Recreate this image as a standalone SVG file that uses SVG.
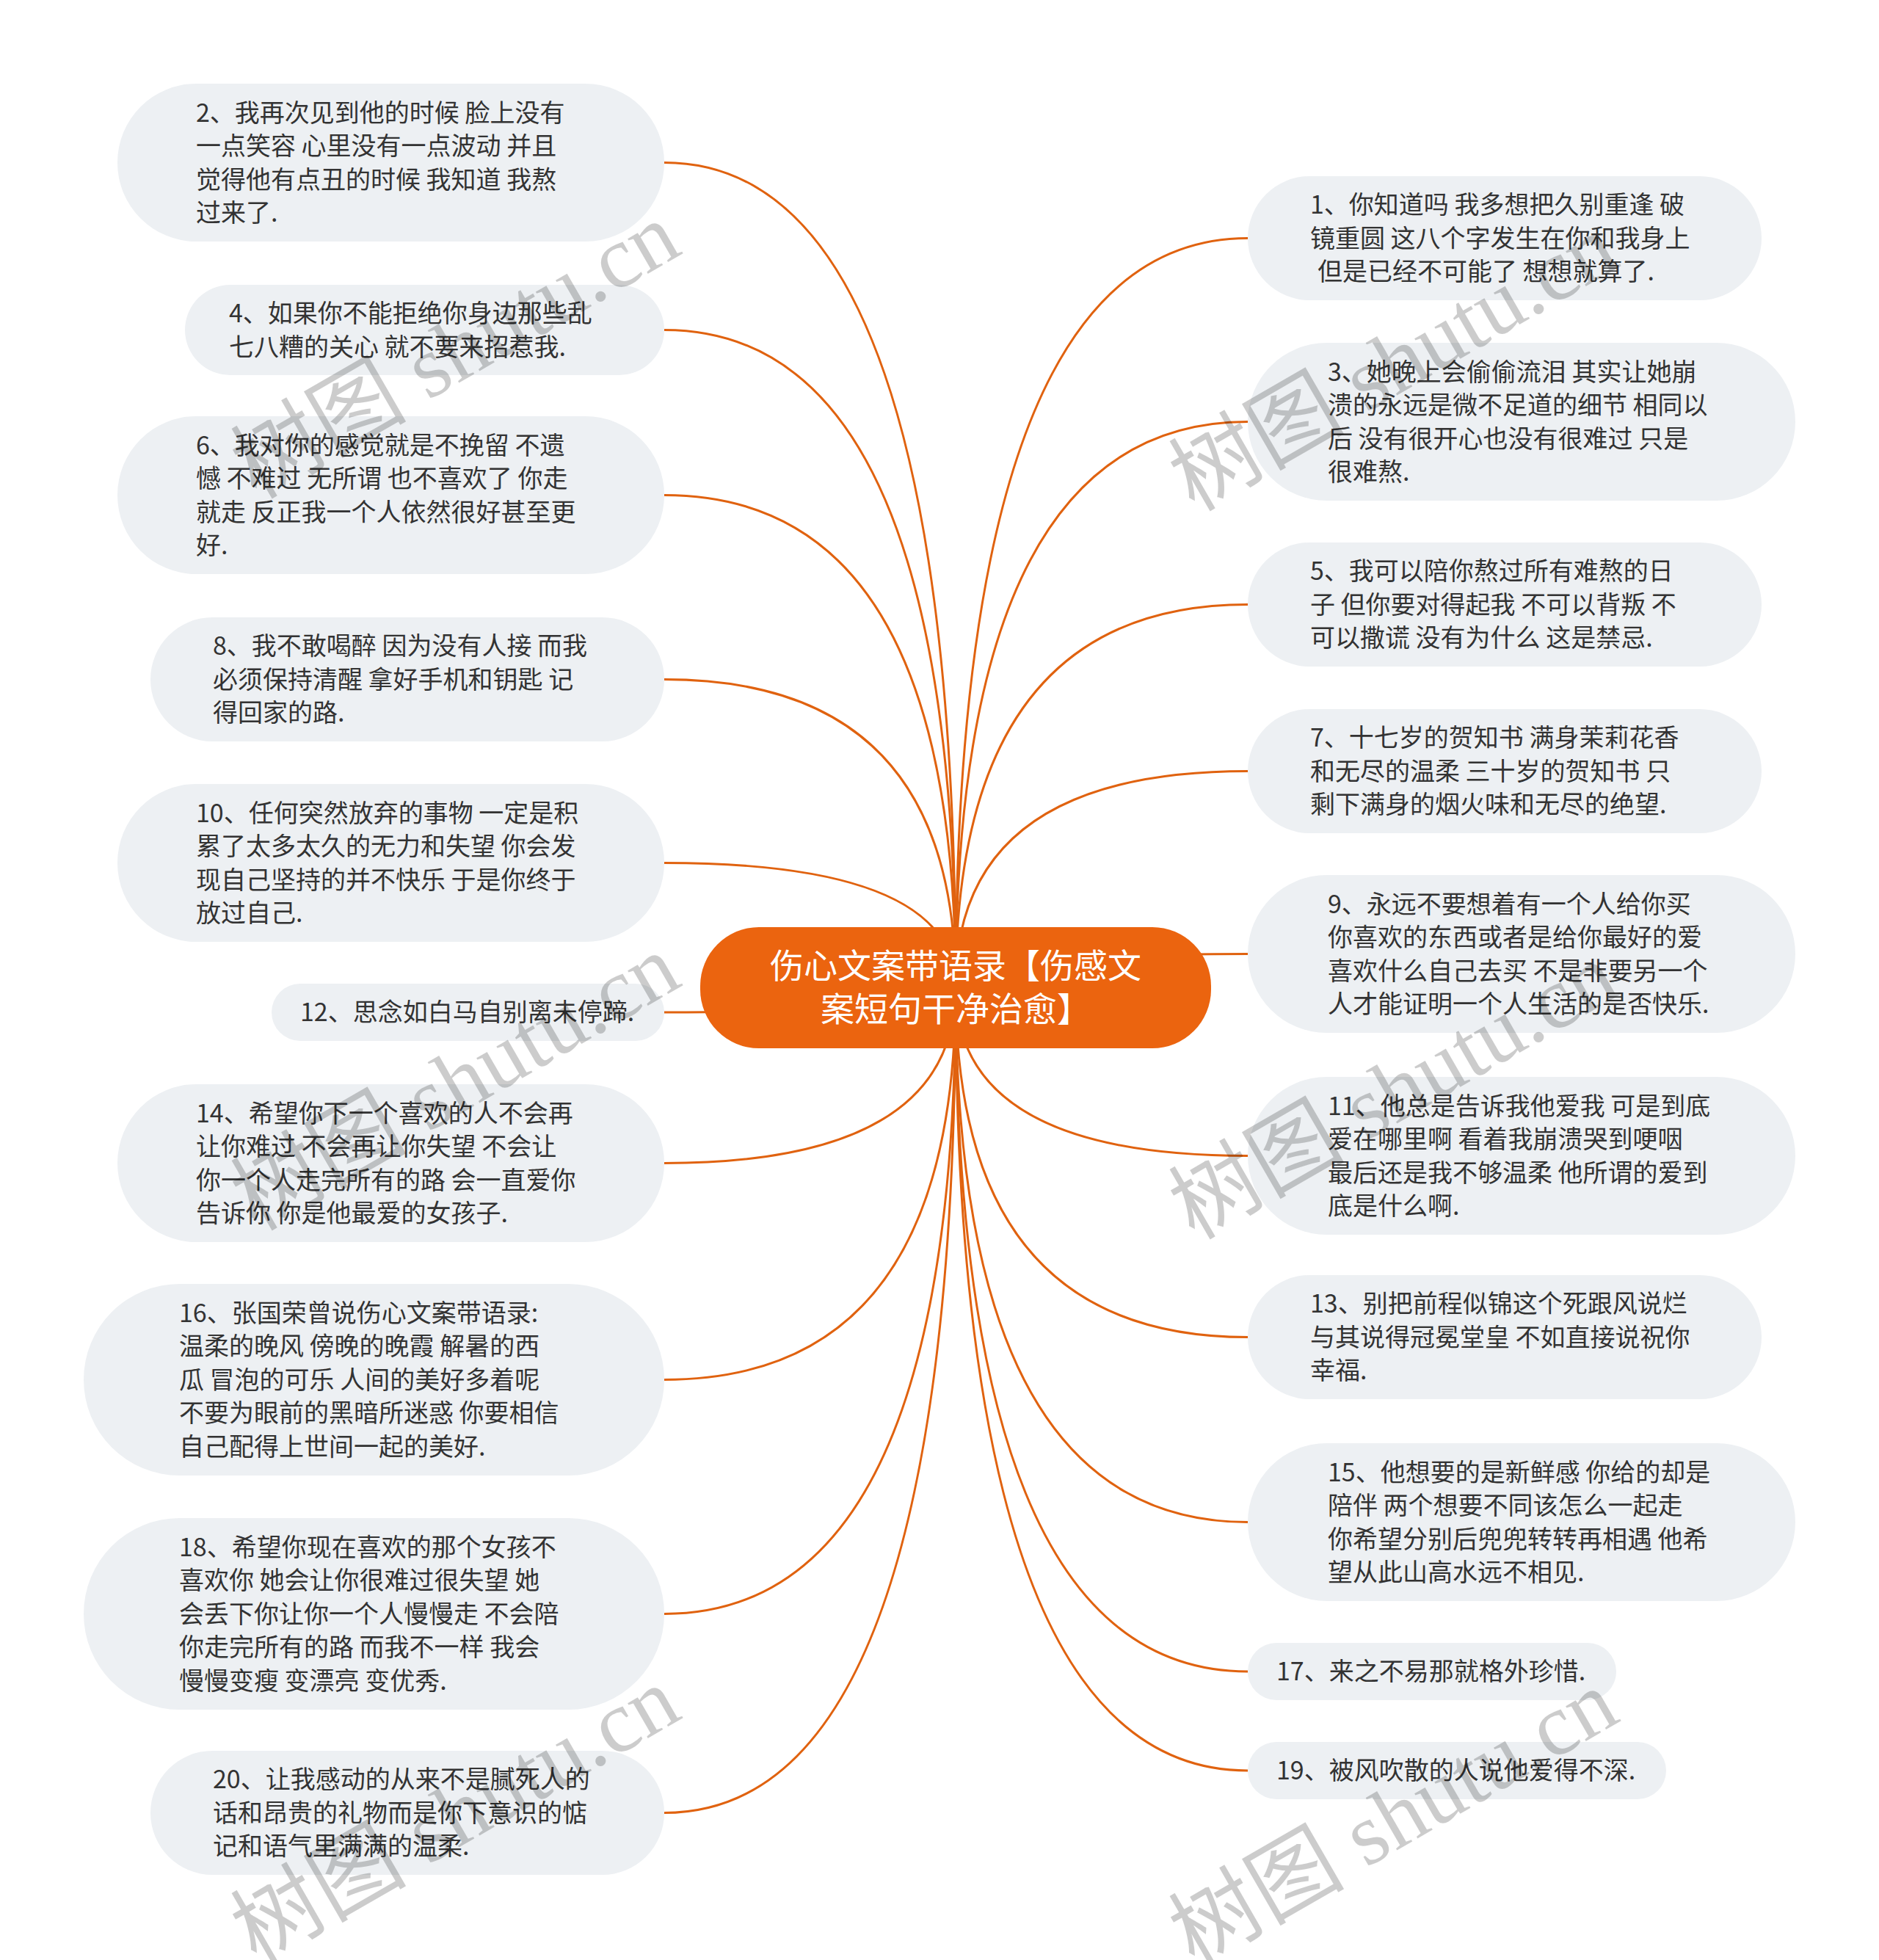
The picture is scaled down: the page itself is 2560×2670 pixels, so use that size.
<svg xmlns="http://www.w3.org/2000/svg" width="2560" height="2670" viewBox="0 0 2560 2670">
<style>
.node rect{fill:#EDF0F3}
.node text{font-family:"Noto Sans CJK SC","Microsoft YaHei",sans-serif;font-size:34px;fill:#333333}
.edge{fill:none;stroke:#E0620F;stroke-width:3}
.center rect{fill:#EB640F}
.center text{font-family:"Noto Sans CJK SC","Microsoft YaHei",sans-serif;font-size:46px;fill:#FFFFFF;text-anchor:middle}
.wm{font-family:"Liberation Serif","Noto Sans CJK SC",serif;font-size:120px;fill:#000000;fill-opacity:0.2}
</style>
<rect width="2560" height="2670" fill="#FFFFFF"/>
<g id="connectors">
<path class="edge" d="M1302 1345 Q1302 221.5 905 221.5"/>
<path class="edge" d="M1302 1345 Q1302 449.5 905 449.5"/>
<path class="edge" d="M1302 1345 Q1302 674.5 905 674.5"/>
<path class="edge" d="M1302 1345 Q1302 925.5 905 925.5"/>
<path class="edge" d="M1302 1345 Q1302 1175.5 905 1175.5"/>
<path class="edge" d="M1302 1345 Q1302 1379 905 1379"/>
<path class="edge" d="M1302 1345 Q1302 1584.5 905 1584.5"/>
<path class="edge" d="M1302 1345 Q1302 1879.5 905 1879.5"/>
<path class="edge" d="M1302 1345 Q1302 2198.5 905 2198.5"/>
<path class="edge" d="M1302 1345 Q1302 2469.5 905 2469.5"/>
<path class="edge" d="M1302 1345 Q1302 324.5 1700 324.5"/>
<path class="edge" d="M1302 1345 Q1302 574.5 1700 574.5"/>
<path class="edge" d="M1302 1345 Q1302 823.5 1700 823.5"/>
<path class="edge" d="M1302 1345 Q1302 1050.5 1700 1050.5"/>
<path class="edge" d="M1302 1345 Q1302 1299.5 1700 1299.5"/>
<path class="edge" d="M1302 1345 Q1302 1574.5 1700 1574.5"/>
<path class="edge" d="M1302 1345 Q1302 1821.5 1700 1821.5"/>
<path class="edge" d="M1302 1345 Q1302 2073.5 1700 2073.5"/>
<path class="edge" d="M1302 1345 Q1302 2277 1700 2277"/>
<path class="edge" d="M1302 1345 Q1302 2412 1700 2412"/>
</g>
<g id="center" class="center">
<rect x="954" y="1263" width="696" height="165" rx="80" ry="80"/>
<text><tspan x="1302" y="1332">伤心文案带语录【伤感文</tspan><tspan x="1302" y="1391">案短句干净治愈】</tspan></text>
</g>
<g id="n2" class="node"><rect x="160" y="114" width="745" height="215" rx="107.5"/>
<text><tspan x="267" y="166">2、我再次见到他的时候 脸上没有</tspan><tspan x="267" y="211">一点笑容 心里没有一点波动 并且</tspan><tspan x="267" y="257">觉得他有点丑的时候 我知道 我熬</tspan><tspan x="267" y="302">过来了.</tspan></text></g>
<g id="n4" class="node"><rect x="252" y="388" width="653" height="123" rx="61.5"/>
<text><tspan x="312" y="439">4、如果你不能拒绝你身边那些乱</tspan><tspan x="312" y="485">七八糟的关心 就不要来招惹我.</tspan></text></g>
<g id="n6" class="node"><rect x="160" y="567" width="745" height="215" rx="107.5"/>
<text><tspan x="267" y="619">6、我对你的感觉就是不挽留 不遗</tspan><tspan x="267" y="664">憾 不难过 无所谓 也不喜欢了 你走</tspan><tspan x="267" y="710">就走 反正我一个人依然很好甚至更</tspan><tspan x="267" y="755">好.</tspan></text></g>
<g id="n8" class="node"><rect x="205" y="841" width="700" height="169" rx="84.5"/>
<text><tspan x="290" y="892">8、我不敢喝醉 因为没有人接 而我</tspan><tspan x="290" y="938">必须保持清醒 拿好手机和钥匙 记</tspan><tspan x="290" y="983">得回家的路.</tspan></text></g>
<g id="n10" class="node"><rect x="160" y="1068" width="745" height="215" rx="107.5"/>
<text><tspan x="267" y="1120">10、任何突然放弃的事物 一定是积</tspan><tspan x="267" y="1165">累了太多太久的无力和失望 你会发</tspan><tspan x="267" y="1211">现自己坚持的并不快乐 于是你终于</tspan><tspan x="267" y="1256">放过自己.</tspan></text></g>
<g id="n12" class="node"><rect x="370" y="1340" width="535" height="78" rx="39"/>
<text><tspan x="409" y="1391">12、思念如白马自别离未停蹄.</tspan></text></g>
<g id="n14" class="node"><rect x="160" y="1477" width="745" height="215" rx="107.5"/>
<text><tspan x="267" y="1529">14、希望你下一个喜欢的人不会再</tspan><tspan x="267" y="1574">让你难过 不会再让你失望 不会让</tspan><tspan x="267" y="1620">你一个人走完所有的路 会一直爱你</tspan><tspan x="267" y="1665">告诉你 你是他最爱的女孩子.</tspan></text></g>
<g id="n16" class="node"><rect x="114" y="1749" width="791" height="261" rx="130.5"/>
<text><tspan x="244" y="1801">16、张国荣曾说伤心文案带语录:</tspan><tspan x="244" y="1846">温柔的晚风 傍晚的晚霞 解暑的西</tspan><tspan x="244" y="1892">瓜 冒泡的可乐 人间的美好多着呢</tspan><tspan x="244" y="1937">不要为眼前的黑暗所迷惑 你要相信</tspan><tspan x="244" y="1983">自己配得上世间一起的美好.</tspan></text></g>
<g id="n18" class="node"><rect x="114" y="2068" width="791" height="261" rx="130.5"/>
<text><tspan x="244" y="2120">18、希望你现在喜欢的那个女孩不</tspan><tspan x="244" y="2165">喜欢你 她会让你很难过很失望 她</tspan><tspan x="244" y="2211">会丢下你让你一个人慢慢走 不会陪</tspan><tspan x="244" y="2256">你走完所有的路 而我不一样 我会</tspan><tspan x="244" y="2302">慢慢变瘦 变漂亮 变优秀.</tspan></text></g>
<g id="n20" class="node"><rect x="205" y="2385" width="700" height="169" rx="84.5"/>
<text><tspan x="290" y="2436">20、让我感动的从来不是腻死人的</tspan><tspan x="290" y="2482">话和昂贵的礼物而是你下意识的惦</tspan><tspan x="290" y="2527">记和语气里满满的温柔.</tspan></text></g>
<g id="n1" class="node"><rect x="1700" y="240" width="700" height="169" rx="84.5"/>
<text><tspan x="1785" y="291">1、你知道吗 我多想把久别重逢 破</tspan><tspan x="1785" y="337">镜重圆 这八个字发生在你和我身上</tspan><tspan x="1795" y="382">但是已经不可能了 想想就算了.</tspan></text></g>
<g id="n3" class="node"><rect x="1700" y="467" width="746" height="215" rx="107.5"/>
<text><tspan x="1809" y="519">3、她晚上会偷偷流泪 其实让她崩</tspan><tspan x="1809" y="564">溃的永远是微不足道的细节 相同以</tspan><tspan x="1809" y="610">后 没有很开心也没有很难过 只是</tspan><tspan x="1809" y="655">很难熬.</tspan></text></g>
<g id="n5" class="node"><rect x="1700" y="739" width="700" height="169" rx="84.5"/>
<text><tspan x="1785" y="790">5、我可以陪你熬过所有难熬的日</tspan><tspan x="1785" y="836">子 但你要对得起我 不可以背叛 不</tspan><tspan x="1785" y="881">可以撒谎 没有为什么 这是禁忌.</tspan></text></g>
<g id="n7" class="node"><rect x="1700" y="966" width="700" height="169" rx="84.5"/>
<text><tspan x="1785" y="1017">7、十七岁的贺知书 满身茉莉花香</tspan><tspan x="1785" y="1063">和无尽的温柔 三十岁的贺知书 只</tspan><tspan x="1785" y="1108">剩下满身的烟火味和无尽的绝望.</tspan></text></g>
<g id="n9" class="node"><rect x="1700" y="1192" width="746" height="215" rx="107.5"/>
<text><tspan x="1809" y="1244">9、永远不要想着有一个人给你买</tspan><tspan x="1809" y="1289">你喜欢的东西或者是给你最好的爱</tspan><tspan x="1809" y="1335">喜欢什么自己去买 不是非要另一个</tspan><tspan x="1809" y="1380">人才能证明一个人生活的是否快乐.</tspan></text></g>
<g id="n11" class="node"><rect x="1700" y="1467" width="746" height="215" rx="107.5"/>
<text><tspan x="1809" y="1519">11、他总是告诉我他爱我 可是到底</tspan><tspan x="1809" y="1564">爱在哪里啊 看着我崩溃哭到哽咽</tspan><tspan x="1809" y="1610">最后还是我不够温柔 他所谓的爱到</tspan><tspan x="1809" y="1655">底是什么啊.</tspan></text></g>
<g id="n13" class="node"><rect x="1700" y="1737" width="700" height="169" rx="84.5"/>
<text><tspan x="1785" y="1788">13、别把前程似锦这个死跟风说烂</tspan><tspan x="1785" y="1834">与其说得冠冕堂皇 不如直接说祝你</tspan><tspan x="1785" y="1879">幸福.</tspan></text></g>
<g id="n15" class="node"><rect x="1700" y="1966" width="746" height="215" rx="107.5"/>
<text><tspan x="1809" y="2018">15、他想要的是新鲜感 你给的却是</tspan><tspan x="1809" y="2063">陪伴 两个想要不同该怎么一起走</tspan><tspan x="1809" y="2109">你希望分别后兜兜转转再相遇 他希</tspan><tspan x="1809" y="2154">望从此山高水远不相见.</tspan></text></g>
<g id="n17" class="node"><rect x="1700" y="2238" width="502" height="78" rx="39"/>
<text><tspan x="1739" y="2289">17、来之不易那就格外珍惜.</tspan></text></g>
<g id="n19" class="node"><rect x="1700" y="2373" width="570" height="78" rx="39"/>
<text><tspan x="1739" y="2424">19、被风吹散的人说他爱得不深.</tspan></text></g>
<g id="watermarks">
<text class="wm" x="349" y="681" transform="rotate(-30 349 681)">树图 shutu.cn</text>
<text class="wm" x="1627" y="698" transform="rotate(-30 1627 698)">树图 shutu.cn</text>
<text class="wm" x="349" y="1678" transform="rotate(-30 349 1678)">树图 shutu.cn</text>
<text class="wm" x="1627" y="1690" transform="rotate(-30 1627 1690)">树图 shutu.cn</text>
<text class="wm" x="349" y="2676" transform="rotate(-30 349 2676)">树图 shutu.cn</text>
<text class="wm" x="1627" y="2680" transform="rotate(-30 1627 2680)">树图 shutu.cn</text>
</g>
</svg>
